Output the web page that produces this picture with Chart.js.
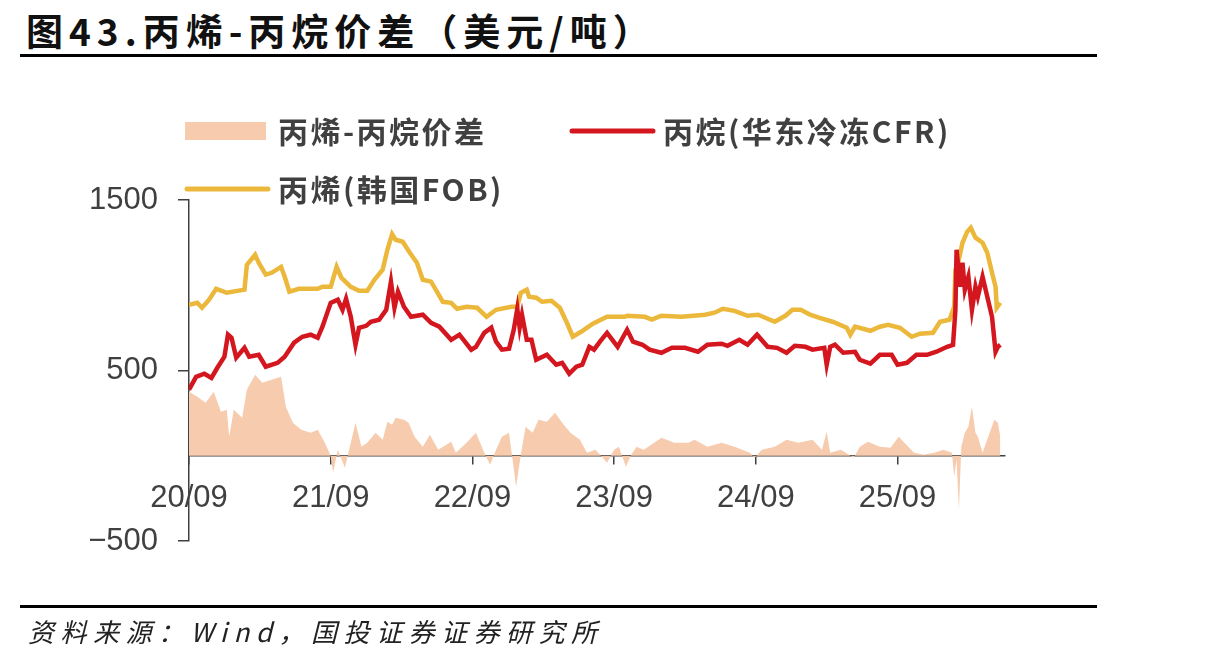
<!DOCTYPE html>
<html>
<head>
<meta charset="utf-8">
<script src="https://cdn.jsdelivr.net/npm/chart.js"></script>
<style>
  body { margin: 0; background: #fff; width: 1213px; height: 663px; overflow: hidden; position: relative; }
  #titulo { position: absolute; left: 26px; top: 3px; font: bold 37px "Noto Sans CJK SC"; color: #111; letter-spacing: 6px; white-space: nowrap; }
  .regua { position: absolute; left: 20px; width: 1077px; height: 3px; background: #000; }
  #fonte { position: absolute; left: 28px; top: 612px; font: italic 26px "Noto Sans CJK SC"; color: #222; letter-spacing: 6.5px; white-space: nowrap; }
  #caixa { position: absolute; left: 0; top: 0; width: 1213px; height: 663px; }
</style>
</head>
<body>
<div id="titulo">图43.丙烯-丙烷价差（美元/吨）</div>
<div class="regua" style="top:54px"></div>
<div id="caixa"><canvas id="grafico" width="1213" height="663"></canvas></div>
<div class="regua" style="top:605px"></div>
<div id="fonte">资料来源：Wind，国投证券证券研究所</div>
<script>
// x = months since 2020/09
const spreadMonths = [0, 0.7, 1.4, 2.1, 2.7, 3.2, 3.4, 3.8, 4.5, 4.9, 5.6, 6.2, 7.0, 7.8, 8.2, 8.8, 9.5, 10.3, 10.9, 11.5, 12.0, 12.2, 12.6, 13.2, 13.7, 14.1, 14.6, 15.1, 15.8, 16.4, 16.8, 17.2, 17.5, 18.2, 18.6, 19.1, 19.8, 20.4, 21.1, 22.2, 22.6, 23.5, 24.3, 25.0, 25.5, 26.0, 26.5, 27.1, 27.7, 28.1, 28.5, 29.1, 29.6, 30.3, 31.0, 31.6, 32.3, 33.1, 33.7, 34.4, 34.9, 35.4, 36.0, 36.4, 37.0, 37.4, 37.9, 38.5, 39.4, 40.0, 41.1, 42.3, 42.8, 43.9, 45.1, 46.2, 47.5, 47.9, 48.5, 49.6, 50.6, 51.6, 52.8, 53.6, 54.0, 54.3, 55.2, 56.3, 56.8, 57.5, 58.5, 59.4, 60.1, 60.5, 61.4, 62.2, 63.1, 63.9, 64.6, 64.8, 65.0, 65.2, 65.4, 65.7, 66.0, 66.3, 66.6, 66.8, 67.2, 67.5, 67.8, 68.2, 68.5, 68.7];
const spreadValues = [375, 346, 311, 375, 258, 270, 111, 270, 223, 387, 475, 428, 446, 463, 287, 194, 152, 135, 152, 76, 0, -100, 35, -70, 76, 194, 53, 76, 135, 94, 199, 182, 223, 211, 194, 111, 53, 123, 35, 82, 18, 76, 135, 18, -53, 35, 111, 135, -182, 6, 170, 135, 211, 199, 252, 194, 135, 94, 18, 35, 0, -41, 35, 53, -64, 0, 53, 35, 76, 106, 76, 76, 94, 53, 76, 53, 18, -12, 35, 53, 94, 76, 94, 35, 141, 18, 35, -12, 53, 82, 53, 47, 111, 82, 18, 6, 18, 35, 18, -123, -23, -317, 53, 135, 170, 287, 135, 111, 18, 76, 135, 211, 194, 111];

const propaneMonths = [0, 0.6, 1.3, 1.9, 2.4, 3.0, 3.3, 3.6, 4.0, 4.7, 5.1, 5.9, 6.5, 7.5, 8.1, 8.9, 9.6, 10.3, 10.9, 11.3, 12.0, 12.6, 13.0, 13.3, 13.7, 14.1, 14.4, 15.0, 15.4, 16.1, 16.7, 17.1, 17.4, 17.7, 18.2, 18.8, 19.8, 20.5, 21.2, 22.2, 22.9, 23.9, 24.3, 25.0, 25.6, 26.0, 26.5, 27.1, 27.5, 27.8, 28.0, 28.2, 28.6, 29.0, 29.4, 30.3, 31.1, 31.6, 32.2, 32.8, 33.3, 33.9, 34.3, 34.8, 35.4, 36.3, 37.1, 37.6, 38.4, 39.0, 40.0, 40.9, 42.0, 43.1, 43.9, 45.1, 45.6, 46.6, 47.3, 48.1, 49.0, 49.8, 50.6, 51.3, 52.2, 52.8, 53.8, 54.0, 54.3, 54.7, 55.4, 56.4, 56.8, 57.7, 58.5, 59.5, 60.0, 60.8, 61.6, 62.5, 63.3, 64.2, 64.7, 64.9, 65.0, 65.3, 65.5, 65.7, 66.0, 66.3, 66.6, 66.8, 67.2, 67.6, 68.0, 68.3, 68.5, 68.7];
const propaneValues = [387, 463, 481, 457, 516, 581, 710, 692, 575, 633, 581, 592, 522, 545, 581, 663, 698, 710, 692, 757, 897, 915, 856, 921, 815, 651, 751, 762, 786, 798, 856, 1021, 868, 962, 874, 815, 827, 780, 757, 680, 710, 622, 639, 721, 751, 669, 622, 628, 739, 862, 751, 827, 680, 680, 563, 592, 534, 545, 481, 522, 534, 639, 622, 669, 721, 639, 739, 669, 651, 622, 604, 633, 633, 610, 651, 657, 645, 680, 651, 710, 639, 633, 604, 645, 639, 622, 633, 534, 639, 651, 604, 610, 563, 540, 592, 592, 534, 545, 592, 592, 610, 639, 651, 856, 1208, 991, 1132, 974, 1050, 856, 991, 933, 1050, 933, 815, 610, 639, 651];

const propyleneMonths = [0, 0.7, 1.1, 1.7, 2.3, 3.2, 4.7, 4.9, 5.6, 5.9, 6.5, 7.0, 7.8, 8.1, 8.5, 9.3, 10.9, 11.3, 12.0, 12.5, 12.9, 13.7, 14.4, 15.1, 15.7, 16.4, 16.8, 17.2, 17.5, 18.1, 18.7, 19.3, 19.8, 20.5, 21.5, 22.2, 22.7, 23.5, 24.4, 25.2, 26.0, 27.3, 27.8, 28.1, 28.6, 28.8, 29.4, 29.9, 30.7, 31.4, 32.0, 32.5, 33.2, 34.2, 35.4, 36.9, 37.1, 38.6, 39.2, 40.0, 41.7, 43.7, 44.5, 45.2, 46.2, 47.3, 48.2, 49.6, 50.5, 51.1, 51.8, 52.6, 53.4, 54.5, 55.7, 56.0, 56.4, 57.7, 58.5, 59.2, 60.2, 61.2, 61.9, 63.0, 63.6, 64.4, 64.8, 64.9, 65.1, 65.5, 65.9, 66.2, 66.6, 67.2, 67.6, 68.0, 68.3, 68.4, 68.7];
const propyleneValues = [886, 897, 868, 915, 979, 956, 974, 1120, 1179, 1132, 1062, 1073, 1108, 1050, 962, 979, 979, 991, 991, 1108, 1044, 991, 968, 968, 1032, 1091, 1208, 1300, 1267, 1255, 1191, 1132, 1032, 1021, 903, 897, 862, 874, 868, 815, 856, 874, 874, 956, 974, 933, 927, 903, 909, 868, 780, 698, 727, 775, 815, 815, 821, 815, 798, 821, 815, 827, 839, 862, 850, 821, 827, 786, 821, 856, 856, 827, 809, 786, 751, 710, 757, 733, 757, 768, 751, 698, 716, 721, 786, 798, 874, 1091, 1120, 1249, 1314, 1337, 1279, 1249, 1191, 1073, 991, 868, 897];

const seriesNames = ['丙烯-丙烷价差', '丙烷(华东冷冻CFR)', '丙烯(韩国FOB)'];
const yTicks = [-500, 500, 1500];
const yTickLabels = ['\u2212500', '500', '1500'];
const xTickYears = ['20', '21', '22', '23', '24', '25'];

function pontos(meses, valores) {
    return meses.map((m, i) => ({ x: m, y: valores[i] }));
}

const cinza = '#404040';

// legenda desenhada a mão: duas colunas como no original
const legendaManual = {
    id: 'legendaManual',
    afterDraw(chart) {
        const ctx = chart.ctx;
        const ds = chart.data.datasets;
        const lugares = [
            { i: 0, x: 185, y: 131 },
            { i: 1, x: 570, y: 131 },
            { i: 2, x: 185, y: 189 }
        ];
        ctx.save();
        ctx.font = 'bold 30px "Noto Sans CJK SC"';
        ctx.letterSpacing = '2.5px';
        ctx.textBaseline = 'middle';
        lugares.forEach(l => {
            const d = ds[l.i];
            if (d.fill) {
                ctx.fillStyle = d.backgroundColor;
                ctx.fillRect(l.x, l.y - 9, 81, 18);
            } else {
                ctx.strokeStyle = d.borderColor;
                ctx.lineWidth = 5;
                ctx.lineCap = 'round';
                ctx.beginPath();
                ctx.moveTo(l.x + 2, l.y);
                ctx.lineTo(l.x + 83, l.y);
                ctx.stroke();
            }
            ctx.fillStyle = cinza;
            ctx.fillText(d.label, l.x + 93, l.y + 1);
        });
        ctx.restore();
    }
};

const ctx = document.getElementById('grafico').getContext('2d');
new Chart(ctx, {
    type: 'line',
    data: {
        datasets: [
            {
                label: seriesNames[0],
                data: pontos(spreadMonths, spreadValues),
                fill: 'origin',
                backgroundColor: '#F7CBAE',
                borderWidth: 0,
                pointRadius: 0,
                tension: 0,
                order: 3
            },
            {
                label: seriesNames[1],
                data: pontos(propaneMonths, propaneValues),
                fill: false,
                borderColor: '#D4161F',
                borderWidth: 4.5,
                pointRadius: 0,
                tension: 0,
                order: 1
            },
            {
                label: seriesNames[2],
                data: pontos(propyleneMonths, propyleneValues),
                fill: false,
                borderColor: '#EBB83B',
                borderWidth: 4.5,
                pointRadius: 0,
                tension: 0,
                order: 2
            }
        ]
    },
    options: {
        responsive: false,
        animation: false,
        layout: { padding: { left: 0, right: 208, top: 200, bottom: 122 } },
        plugins: { legend: { display: false }, tooltip: { enabled: false } },
        scales: {
            x: {
                type: 'linear',
                position: { y: 0 },
                min: 0,
                max: 69.1,
                grid: { display: true, drawOnChartArea: false, drawTicks: true, tickLength: 8, color: cinza, lineWidth: 1.5 },
                border: { display: true, color: cinza, width: 1.5 },
                ticks: {
                    stepSize: 12,
                    includeBounds: false,
                    maxRotation: 0,
                    padding: 16,
                    color: cinza,
                    font: { family: '"Liberation Sans", Arial', size: 31 },
                    callback: v => xTickYears[Math.round(v / 12)] + '/09'
                }
            },
            y: {
                min: yTicks[0],
                max: yTicks[yTicks.length - 1],
                afterFit: s => { s.width = 189; },
                afterBuildTicks: s => { s.ticks = yTicks.map(v => ({ value: v })); },
                grid: { display: true, drawOnChartArea: false, drawTicks: true, tickLength: 11, color: cinza, lineWidth: 1.5 },
                border: { display: true, color: cinza, width: 1.5 },
                ticks: {
                    padding: 20,
                    color: cinza,
                    font: { family: '"Liberation Sans", Arial', size: 31 },
                    callback: v => yTickLabels[yTicks.indexOf(v)]
                }
            }
        }
    },
    plugins: [legendaManual]
});
</script>
</body>
</html>
